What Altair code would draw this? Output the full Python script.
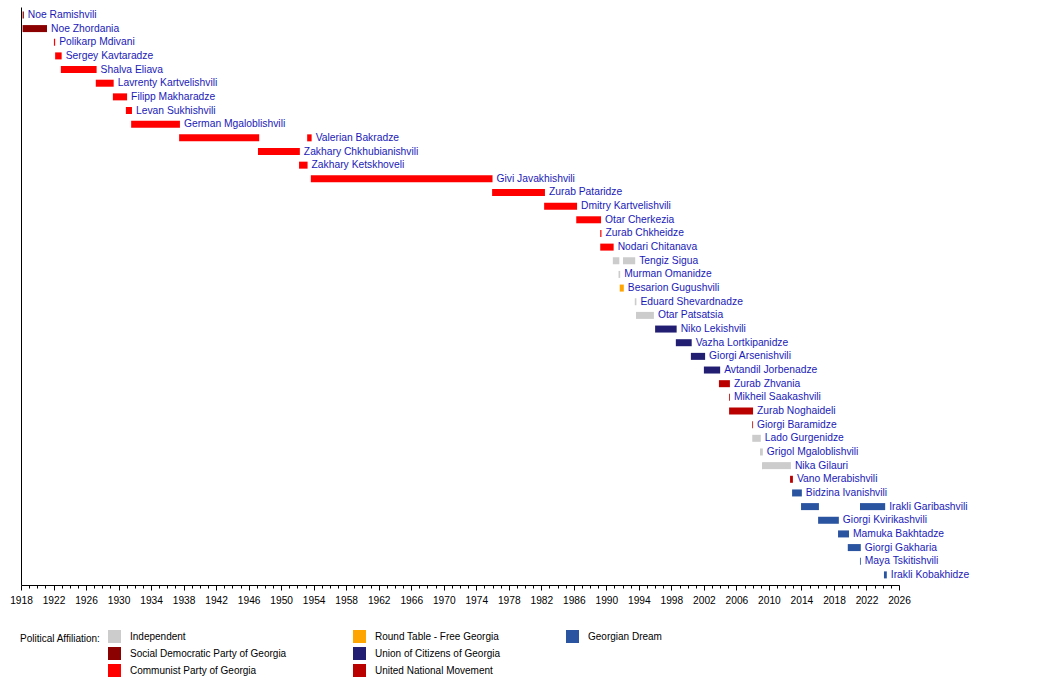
import altair as alt
import pandas as pd

# Rows (top to bottom)
names = [
    "Noe Ramishvili", "Noe Zhordania", "Polikarp Mdivani", "Sergey Kavtaradze",
    "Shalva Eliava", "Lavrenty Kartvelishvili", "Filipp Makharadze", "Levan Sukhishvili",
    "German Mgaloblishvili", "Valerian Bakradze", "Zakhary Chkhubianishvili",
    "Zakhary Ketskhoveli", "Givi Javakhishvili", "Zurab Pataridze", "Dmitry Kartvelishvili",
    "Otar Cherkezia", "Zurab Chkheidze", "Nodari Chitanava", "Tengiz Sigua",
    "Murman Omanidze", "Besarion Gugushvili", "Eduard Shevardnadze", "Otar Patsatsia",
    "Niko Lekishvili", "Vazha Lortkipanidze", "Giorgi Arsenishvili", "Avtandil Jorbenadze",
    "Zurab Zhvania", "Mikheil Saakashvili", "Zurab Noghaideli", "Giorgi Baramidze",
    "Lado Gurgenidze", "Grigol Mgaloblishvili", "Nika Gilauri", "Vano Merabishvili",
    "Bidzina Ivanishvili", "Irakli Garibashvili", "Giorgi Kvirikashvili",
    "Mamuka Bakhtadze", "Giorgi Gakharia", "Maya Tskitishvili", "Irakli Kobakhidze",
]

IND = "Independent"
SDP = "Social Democratic Party of Georgia"
CPG = "Communist Party of Georgia"
RT = "Round Table - Free Georgia"
UCG = "Union of Citizens of Georgia"
UNM = "United National Movement"
GD = "Georgian Dream"

# Terms (one entry per bar)
bar_name = [
    "Noe Ramishvili", "Noe Zhordania", "Polikarp Mdivani", "Sergey Kavtaradze",
    "Shalva Eliava", "Lavrenty Kartvelishvili", "Filipp Makharadze", "Levan Sukhishvili",
    "German Mgaloblishvili", "Valerian Bakradze", "Valerian Bakradze",
    "Zakhary Chkhubianishvili", "Zakhary Ketskhoveli", "Givi Javakhishvili",
    "Zurab Pataridze", "Dmitry Kartvelishvili", "Otar Cherkezia", "Zurab Chkheidze",
    "Nodari Chitanava", "Tengiz Sigua", "Tengiz Sigua", "Murman Omanidze",
    "Besarion Gugushvili", "Eduard Shevardnadze", "Otar Patsatsia", "Niko Lekishvili",
    "Vazha Lortkipanidze", "Giorgi Arsenishvili", "Avtandil Jorbenadze", "Zurab Zhvania",
    "Mikheil Saakashvili", "Zurab Noghaideli", "Giorgi Baramidze", "Lado Gurgenidze",
    "Grigol Mgaloblishvili", "Nika Gilauri", "Vano Merabishvili", "Bidzina Ivanishvili",
    "Irakli Garibashvili", "Irakli Garibashvili", "Giorgi Kvirikashvili",
    "Mamuka Bakhtadze", "Giorgi Gakharia", "Maya Tskitishvili", "Irakli Kobakhidze",
]
bar_start = [
    1918.2, 1918.2, 1922.05, 1922.2, 1922.9, 1927.2, 1929.3, 1930.9, 1931.55,
    1937.45, 1953.2, 1947.15, 1952.2, 1953.65, 1975.95, 1982.35, 1986.3, 1989.25,
    1989.25, 1990.8, 1992.05, 1991.5, 1991.65, 1993.5, 1993.65, 1996.0, 1998.55,
    2000.4, 2002.0, 2003.85, 2005.1, 2005.1, 2007.95, 2007.95, 2008.9, 2009.15,
    2012.6, 2012.85, 2013.95, 2021.2, 2016.05, 2018.5, 2019.7, 2021.2, 2024.15,
]
bar_end = [
    1918.35, 1921.2, 1922.2, 1923.0, 1927.3, 1929.4, 1931.05, 1931.65, 1937.55,
    1947.3, 1953.75, 1952.3, 1953.25, 1976.0, 1982.45, 1986.4, 1989.35, 1989.4,
    1990.9, 1991.6, 1993.55, 1991.7, 1992.15, 1993.7, 1995.85, 1998.65, 2000.5,
    2002.15, 2004.0, 2005.2, 2005.2, 2008.05, 2008.05, 2009.0, 2009.25, 2012.7,
    2012.95, 2014.05, 2016.15, 2024.3, 2018.6, 2019.85, 2021.3, 2021.3, 2024.5,
]
bar_party = [
    SDP, SDP, CPG, CPG, CPG, CPG, CPG, CPG, CPG, CPG, CPG, CPG, CPG, CPG, CPG, CPG,
    CPG, CPG, CPG, IND, IND, IND, RT, IND, IND, UCG, UCG, UCG, UCG, UNM, UNM, UNM,
    UNM, IND, IND, IND, UNM, GD, GD, GD, GD, GD, GD, GD, GD,
]

group1 = [IND, SDP, CPG]
colors1 = ["#cccccc", "#8b0000", "#ff0000"]
group2 = [RT, UCG, UNM]
colors2 = ["#ffa500", "#221f73", "#bb0000"]
group3 = [GD]
colors3 = ["#2a53a0"]

df = pd.DataFrame({"name": bar_name, "start": bar_start, "end": bar_end, "party": bar_party})

FONT = "Liberation Sans"
years = list(range(1918, 2027))

x_axis = alt.Axis(
    title=None, values=years, format="d", grid=False,
    labelExpr="datum.value % 4 === 2 ? datum.label : ''",
    tickSize={"condition": {"test": "datum.value % 4 === 2", "value": 5}, "value": 3},
    tickColor="black", domainColor="black", labelColor="black",
    labelFont=FONT, labelFontSize=10.2, labelPadding=5,
    labelFlush=False, labelOverlap=False,
)
x_scale = alt.Scale(domain=[1918, 2026], nice=False, zero=False)
y_enc = alt.Y(
    "name:N", sort=names,
    scale=alt.Scale(domain=names, paddingInner=0, paddingOuter=0.16, align=0.25, round=False),
    axis=alt.Axis(title=None, labels=False, ticks=False, domain=True, domainColor="black"),
)

def legend(title, lx, ly):
    kw = dict(
        orient="none", legendX=lx, legendY=ly, direction="vertical",
        symbolType="square", symbolSize=169, symbolStrokeWidth=0, symbolOpacity=1,
        labelFont=FONT, labelFontSize=10, labelColor="black", labelOffset=9,
        rowPadding=4, padding=0,
    )
    if title:
        kw.update(title=title, titleOrient="left", titleFont=FONT, titleFontSize=10,
                  titleFontWeight="normal", titleColor="black", titlePadding=7,
                  titleAnchor="start", titleBaseline="line-top", titleLineHeight=18)
    else:
        kw.update(title=None)
    return alt.Legend(**kw)

def bar_layer(group, colors, leg):
    return alt.Chart(df).transform_filter(
        alt.FieldOneOfPredicate(field="party", oneOf=group)
    ).mark_bar(size=7, opacity=1).encode(
        x=alt.X("start:Q", scale=x_scale, axis=x_axis),
        x2="end:Q",
        y=y_enc,
        color=alt.Color("party:N", scale=alt.Scale(domain=group, range=colors), legend=leg),
    )

b1 = bar_layer(group1, colors1, legend("Political Affiliation:", -1, 623))
b2 = bar_layer(group2, colors2, legend(None, 332, 623))
b3 = bar_layer(group3, colors3, legend(None, 545, 623))

labels = alt.Chart(df).mark_text(
    align="left", baseline="middle", dx=4, font=FONT, fontSize=10.3, color="#1a1ab8"
).encode(
    x=alt.X("max(end):Q", scale=x_scale, axis=x_axis),
    y=y_enc,
    text="name:N",
)

chart = alt.layer(b1, b2, b3, labels).resolve_scale(color="independent").properties(
    width=878, height=578,
    padding={"left": 21, "top": 7, "right": 151, "bottom": 99},
    autosize=alt.AutoSizeParams(type="none"),
    background="white",
).configure_view(stroke=None)

chart.save("out.html", embed_options={"renderer": "svg", "actions": False})
